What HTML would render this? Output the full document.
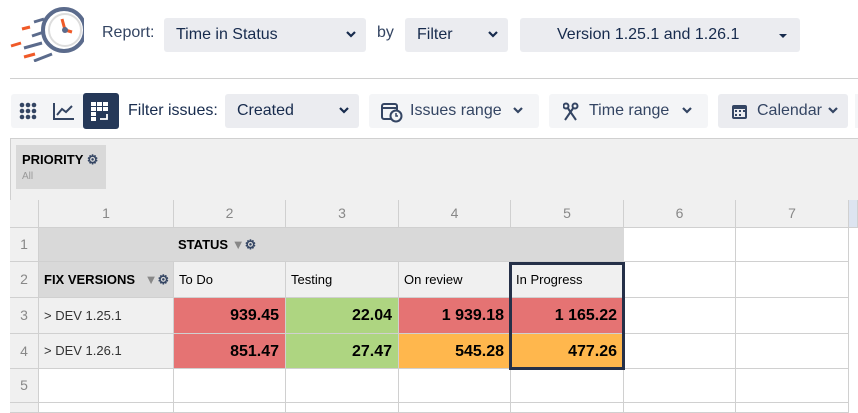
<!DOCTYPE html>
<html><head><meta charset="utf-8"><style>
body{margin:0;width:858px;height:410px;overflow:hidden;background:#fff;font-family:"Liberation Sans",sans-serif;position:relative;color:#172b4d}
.a{position:absolute}
.sel{position:absolute;background:#ebecf0;border-radius:3px;font-size:16px;line-height:34px;color:#172b4d}
.chev{position:absolute;top:13px}
.btn{position:absolute;background:#f4f5f7;border-radius:3px;font-size:16px;line-height:34px;color:#344563}
.c{position:absolute;box-sizing:border-box;border-right:1px solid #d0d0d0;border-bottom:1px solid #d0d0d0;font-size:13px}
.hd{background:#f0f0f0;color:#888;text-align:center;font-size:14px}
.num{font-weight:bold;font-size:16px;text-align:right;padding-right:6px;color:#000}
.red{background:#e57373}.grn{background:#aed581}.org{background:#ffb74d}
</style></head><body>
<!-- logo -->
<svg class="a" style="left:8px;top:6px" width="76" height="56" viewBox="0 0 76 56">
<circle cx="56" cy="24" r="21" fill="#fff" stroke="#5b6b8c" stroke-width="4"/>
<circle cx="57" cy="24" r="16" fill="none" stroke="#ddd" stroke-width="2"/>
<line x1="57" y1="24" x2="54" y2="13" stroke="#f05a28" stroke-width="3"/>
<line x1="57" y1="24" x2="64" y2="26" stroke="#f05a28" stroke-width="3"/>
<circle cx="57" cy="24" r="3" fill="#5b6b8c"/>
<line x1="26" y1="16" x2="36" y2="13" stroke="#5b6b8c" stroke-width="3"/>
<line x1="14" y1="23" x2="22" y2="21" stroke="#f05a28" stroke-width="3"/>
<line x1="24" y1="30" x2="36" y2="26" stroke="#5b6b8c" stroke-width="3"/>
<line x1="3" y1="40" x2="13" y2="37" stroke="#f05a28" stroke-width="3"/>
<line x1="16" y1="42" x2="34" y2="37" stroke="#5b6b8c" stroke-width="3"/>
<line x1="16" y1="51" x2="27" y2="48" stroke="#f05a28" stroke-width="3"/>
<line x1="26" y1="55" x2="44" y2="48" stroke="#5b6b8c" stroke-width="3"/>
</svg>
<div class="a" style="left:102px;top:24px;font-size:16px;color:#344563">Report:</div>
<div class="sel" style="left:164px;top:18px;width:202px;"><span style="margin-left:12px">Time in Status</span><svg class="chev" style="right:10px" width="10" height="8"><polyline points="1,1 5,5 9,1" fill="none" stroke="#172b4d" stroke-width="2.2"/></svg></div>
<div class="a" style="left:377px;top:24px;font-size:16px;color:#344563">by</div>
<div class="sel" style="left:405px;top:18px;width:103px;"><span style="margin-left:12px">Filter</span><svg class="chev" style="right:10px" width="10" height="8"><polyline points="1,1 5,5 9,1" fill="none" stroke="#172b4d" stroke-width="2.2"/></svg></div>
<div class="sel" style="left:520px;top:18px;width:280px;"><span style="margin-left:37px">Version 1.25.1 and 1.26.1</span><svg class="chev" style="right:12px;top:15px" width="10" height="6"><polygon points="1,1 9,1 5,5" fill="#172b4d"/></svg></div>
<div class="a" style="left:10px;top:78px;width:848px;height:1px;background:#d0d0d0"></div>
<!-- toolbar -->
<div class="a" style="left:11px;top:94px;width:108px;height:34px;background:#f4f5f7;border-radius:3px"></div>
<svg class="a" style="left:19px;top:102px" width="20" height="20" fill="#344563">
<circle cx="3" cy="3" r="2.3"/><circle cx="9" cy="3" r="2.3"/><circle cx="15" cy="3" r="2.3"/>
<circle cx="3" cy="9" r="2.3"/><circle cx="9" cy="9" r="2.3"/><circle cx="15" cy="9" r="2.3"/>
<circle cx="3" cy="15" r="2.3"/><circle cx="9" cy="15" r="2.3"/><circle cx="15" cy="15" r="2.3"/></svg>
<svg class="a" style="left:52px;top:101px" width="24" height="20"><polyline points="2,2 2,18 22,18" fill="none" stroke="#344563" stroke-width="2"/><polyline points="5,14 10,8 14,11 20,5" fill="none" stroke="#344563" stroke-width="2"/></svg>
<div class="a" style="left:83px;top:93px;width:36px;height:36px;background:#253858;border-radius:3px"></div>
<svg class="a" style="left:91px;top:102px" width="22" height="22" fill="#fff">
<rect x="0" y="0" width="5" height="4"/><rect x="6" y="0" width="5" height="4"/><rect x="12" y="0" width="5" height="4"/>
<rect x="0" y="5" width="5" height="4"/><rect x="6" y="5" width="5" height="4"/><rect x="12" y="5" width="5" height="4"/>
<rect x="0" y="10" width="5" height="4"/><rect x="0" y="15" width="5" height="4"/>
<path d="M9 17 h7 v-5" fill="none" stroke="#fff" stroke-width="1.8"/></svg>
<div class="a" style="left:128px;top:102px;font-size:16px;color:#172b4d">Filter issues:</div>
<div class="sel" style="left:225px;top:94px;width:134px;"><span style="margin-left:12px">Created</span><svg class="chev" style="right:10px" width="10" height="8"><polyline points="1,1 5,5 9,1" fill="none" stroke="#172b4d" stroke-width="2.2"/></svg></div>
<div class="btn" style="left:369px;top:94px;width:170px;"><svg class="a" style="left:12px;top:7px" width="22" height="22"><rect x="1" y="3" width="15" height="15" rx="2" fill="none" stroke="#344563" stroke-width="2"/><line x1="1" y1="7" x2="16" y2="7" stroke="#344563" stroke-width="2"/><circle cx="15" cy="15" r="5.5" fill="#f4f5f7" stroke="#344563" stroke-width="2"/><path d="M15 12 v3 h2" fill="none" stroke="#344563" stroke-width="1.5"/></svg><span style="margin-left:41px">Issues range</span><svg class="chev" style="left:144px" width="10" height="8"><polyline points="1,1 5,5 9,1" fill="none" stroke="#344563" stroke-width="2.2"/></svg></div>
<div class="btn" style="left:549px;top:94px;width:159px;"><svg class="a" style="left:14px;top:8px" width="16" height="20"><line x1="2" y1="2" x2="13" y2="18" stroke="#344563" stroke-width="2"/><line x1="13" y1="2" x2="2" y2="18" stroke="#344563" stroke-width="2"/><circle cx="3" cy="4" r="2.5" fill="#f4f5f7" stroke="#344563" stroke-width="2"/><circle cx="12" cy="4" r="2.5" fill="#f4f5f7" stroke="#344563" stroke-width="2"/></svg><span style="margin-left:40px">Time range</span><svg class="chev" style="left:133px" width="10" height="8"><polyline points="1,1 5,5 9,1" fill="none" stroke="#344563" stroke-width="2.2"/></svg></div>
<div class="sel" style="left:718px;top:94px;width:130px;color:#344563"><svg class="a" style="left:13px;top:9px" width="18" height="17"><rect x="1" y="2" width="15" height="14" rx="2" fill="#344563"/><rect x="3" y="6" width="11" height="8" fill="#ebecf0"/><g fill="#344563"><rect x="4" y="7" width="2" height="2"/><rect x="8" y="7" width="2" height="2"/><rect x="12" y="7" width="2" height="2"/><rect x="4" y="11" width="2" height="2"/><rect x="8" y="11" width="2" height="2"/></g></svg><span style="margin-left:39px">Calendar</span><svg class="chev" style="right:10px" width="10" height="8"><polyline points="1,1 5,5 9,1" fill="none" stroke="#344563" stroke-width="2.2"/></svg></div>
<div class="a" style="left:855px;top:94px;width:3px;height:34px;background:#f4f5f7"></div>
<!-- filter area -->
<div class="a" style="left:10px;top:138px;width:848px;height:62px;background:#f0f0f0;border-top:1px solid #d0d0d0;border-left:1px solid #d0d0d0"></div>
<div class="a" style="left:16px;top:145px;width:90px;height:44px;background:#d9d9d9"></div>
<div class="a" style="left:22px;top:152px;font-size:13px;font-weight:bold;color:#000">PRIORITY <span style="color:#344563">&#9881;</span></div>
<div class="a" style="left:22px;top:171px;font-size:10px;color:#999">All</div>
<!-- grid -->
<div class="a" style="left:10px;top:200px;width:848px;height:210px;border-left:1px solid #d0d0d0;border-top:1px solid #d0d0d0;box-sizing:border-box"></div>
<div class="c hd" style="left:10px;top:200px;width:29px;height:28px"></div>
<div class="c hd" style="left:39px;top:200px;width:135px;height:28px;line-height:27px">1</div>
<div class="c hd" style="left:174px;top:200px;width:112px;height:28px;line-height:27px">2</div>
<div class="c hd" style="left:286px;top:200px;width:113px;height:28px;line-height:27px">3</div>
<div class="c hd" style="left:399px;top:200px;width:112px;height:28px;line-height:27px">4</div>
<div class="c hd" style="left:511px;top:200px;width:113px;height:28px;line-height:27px">5</div>
<div class="c hd" style="left:624px;top:200px;width:112px;height:28px;line-height:27px">6</div>
<div class="c hd" style="left:736px;top:200px;width:113px;height:28px;line-height:27px">7</div>
<div class="c" style="left:849px;top:200px;width:9px;height:28px;background:#dde4f0"></div>
<div class="c hd" style="left:10px;top:228px;width:29px;height:34px;line-height:33px">1</div>
<div class="c hd" style="left:10px;top:262px;width:29px;height:36px;line-height:35px">2</div>
<div class="c hd" style="left:10px;top:298px;width:29px;height:36px;line-height:35px">3</div>
<div class="c hd" style="left:10px;top:334px;width:29px;height:35px;line-height:34px">4</div>
<div class="c hd" style="left:10px;top:369px;width:29px;height:34px;line-height:33px">5</div>
<div class="c hd" style="left:10px;top:403px;width:29px;height:10px"></div>
<div class="a" style="left:39px;top:228px;width:585px;height:34px;background:#d9d9d9;border-bottom:1px solid #d0d0d0;box-sizing:border-box"></div>
<div class="a" style="left:178px;top:237px;font-size:13px;font-weight:bold;color:#000">STATUS <span style="color:#888">&#9660;</span><span style="color:#344563">&#9881;</span></div>
<div class="c" style="left:39px;top:262px;width:135px;height:36px;background:#d9d9d9;font-weight:bold;color:#000;line-height:35px;padding-left:5px">FIX VERSIONS <span style="color:#888;margin-left:6px">&#9660;</span><span style="color:#344563">&#9881;</span></div>
<div class="c" style="left:174px;top:262px;width:112px;height:36px;background:#f0f0f0;line-height:35px;padding-left:5px;color:#000">To Do</div>
<div class="c" style="left:286px;top:262px;width:113px;height:36px;background:#f0f0f0;line-height:35px;padding-left:5px;color:#000">Testing</div>
<div class="c" style="left:399px;top:262px;width:112px;height:36px;background:#f0f0f0;line-height:35px;padding-left:5px;color:#000">On review</div>
<div class="c" style="left:511px;top:262px;width:113px;height:36px;background:#f0f0f0;line-height:35px;padding-left:5px;color:#000">In Progress</div>
<div class="c" style="left:39px;top:298px;width:135px;height:36px;background:#f0f0f0;line-height:35px;padding-left:5px;color:#333">&gt; DEV 1.25.1</div>
<div class="c" style="left:39px;top:334px;width:135px;height:35px;background:#f0f0f0;line-height:34px;padding-left:5px;color:#333">&gt; DEV 1.26.1</div>
<div class="c num red" style="left:174px;top:298px;width:112px;height:36px;line-height:36px">939.45</div>
<div class="c num grn" style="left:286px;top:298px;width:113px;height:36px;line-height:36px">22.04</div>
<div class="c num red" style="left:399px;top:298px;width:112px;height:36px;line-height:36px">1 939.18</div>
<div class="c num red" style="left:511px;top:298px;width:113px;height:36px;line-height:36px">1 165.22</div>
<div class="c num red" style="left:174px;top:334px;width:112px;height:35px;line-height:35px">851.47</div>
<div class="c num grn" style="left:286px;top:334px;width:113px;height:35px;line-height:35px">27.47</div>
<div class="c num org" style="left:399px;top:334px;width:112px;height:35px;line-height:35px">545.28</div>
<div class="c num org" style="left:511px;top:334px;width:113px;height:35px;line-height:35px">477.26</div>
<!-- empty cells -->
<div class="c" style="left:624px;top:228px;width:112px;height:34px"></div><div class="c" style="left:736px;top:228px;width:113px;height:34px"></div>
<div class="c" style="left:624px;top:262px;width:112px;height:36px"></div><div class="c" style="left:736px;top:262px;width:113px;height:36px"></div>
<div class="c" style="left:624px;top:298px;width:112px;height:36px"></div><div class="c" style="left:736px;top:298px;width:113px;height:36px"></div>
<div class="c" style="left:624px;top:334px;width:112px;height:35px"></div><div class="c" style="left:736px;top:334px;width:113px;height:35px"></div>
<div class="c" style="left:39px;top:369px;width:135px;height:34px"></div><div class="c" style="left:174px;top:369px;width:112px;height:34px"></div><div class="c" style="left:286px;top:369px;width:113px;height:34px"></div><div class="c" style="left:399px;top:369px;width:112px;height:34px"></div><div class="c" style="left:511px;top:369px;width:113px;height:34px"></div><div class="c" style="left:624px;top:369px;width:112px;height:34px"></div><div class="c" style="left:736px;top:369px;width:113px;height:34px"></div>
<div class="c" style="left:39px;top:403px;width:135px;height:10px"></div><div class="c" style="left:174px;top:403px;width:112px;height:10px"></div><div class="c" style="left:286px;top:403px;width:113px;height:10px"></div><div class="c" style="left:399px;top:403px;width:112px;height:10px"></div><div class="c" style="left:511px;top:403px;width:113px;height:10px"></div><div class="c" style="left:624px;top:403px;width:112px;height:10px"></div><div class="c" style="left:736px;top:403px;width:113px;height:10px"></div>
<div class="a" style="left:509px;top:262px;width:116px;height:108px;border:3px solid #253048;box-sizing:border-box"></div>
</body></html>
